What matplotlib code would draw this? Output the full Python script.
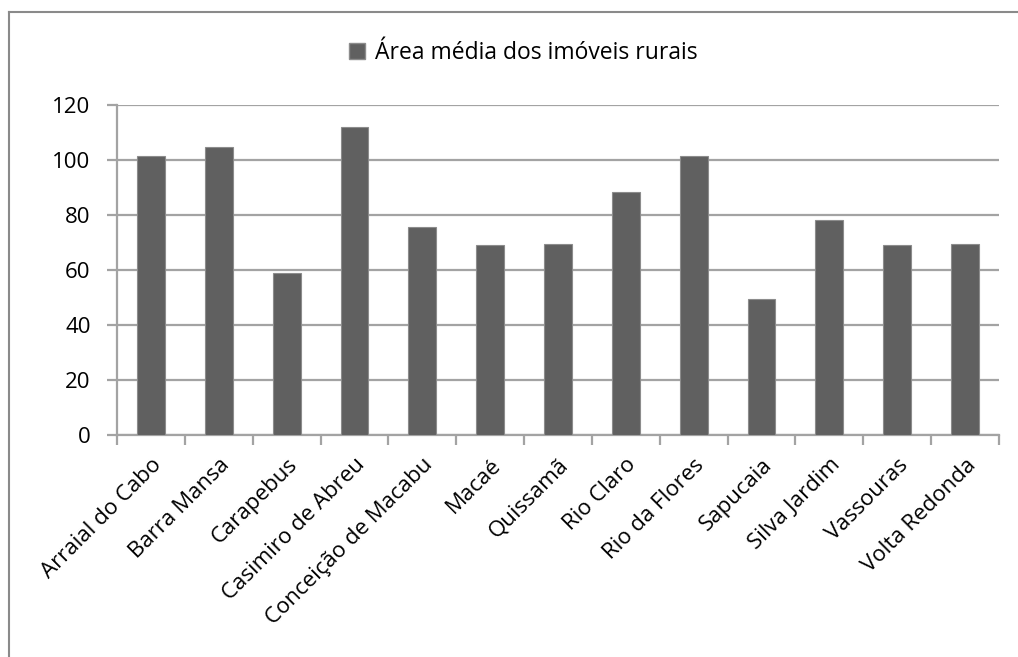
import numpy as np
import matplotlib.pyplot as plt
from matplotlib.lines import Line2D
from matplotlib.patches import Patch

plt.rcParams['font.family'] = ['Open Sans', 'DejaVu Sans']

# data
municipios = [
    "Arraial do Cabo", "Barra Mansa", "Carapebus", "Casimiro de Abreu",
    "Conceição de Macabu", "Macaé", "Quissamã", "Rio Claro",
    "Rio da Flores", "Sapucaia", "Silva Jardim", "Vassouras", "Volta Redonda",
]
area_media = [101.6, 104.8, 58.8, 111.9, 75.5, 69.2, 69.5, 88.2,
              101.3, 49.5, 78.1, 69.0, 69.5]
serie_nome = "Área média dos imóveis rurais"
y_ticks = [0, 20, 40, 60, 80, 100, 120]

bar_color = '#606060'
grid_color = '#a3a3a3'

W, H = 1018, 657
fig = plt.figure(figsize=(W / 100, H / 100), dpi=100)
ax = fig.add_axes([117 / W, 1 - 435 / H, (999 - 117) / W, (435 - 105) / H])

x = np.arange(len(municipios))
ax.bar(x, area_media, width=0.41, color=bar_color, edgecolor='#8c8c8c',
       linewidth=0.8, zorder=3)

ax.set_xlim(-0.5, len(municipios) - 0.5)
ax.set_ylim(0, 120)
ax.set_yticks(y_ticks)
ax.yaxis.grid(True, color=grid_color, linewidth=1.6, zorder=0)
ax.set_axisbelow(True)

for side in ['top', 'right']:
    ax.spines[side].set_visible(False)
for side in ['left', 'bottom']:
    ax.spines[side].set_color(grid_color)
    ax.spines[side].set_linewidth(1.6)

ax.tick_params(axis='y', length=7, width=1.6, color=grid_color, labelsize=16,
               pad=12)
ax.set_xticks(x)
ax.set_xticklabels(municipios, rotation=45, ha='right', rotation_mode='anchor',
                   fontsize=16)
ax.tick_params(axis='x', length=0, pad=14)
ax.set_xticks(np.arange(len(municipios) + 1) - 0.5, minor=True)
ax.tick_params(axis='x', which='minor', length=7, width=1.6, color=grid_color)

handle = Patch(facecolor=bar_color, edgecolor='#8c8c8c')
fig.legend([handle], [serie_nome], loc='center',
           bbox_to_anchor=(523 / W, 1 - 53 / H), frameon=False, fontsize=16.5,
           handlelength=0.7, handleheight=0.7, handletextpad=0.45)

# outer chart border (clipped by the image edges)
fig.add_artist(Line2D([8.5 / W, 8.5 / W], [-0.1, 1 - 12 / H],
                      color='#8a8a8a', linewidth=1.5))
fig.add_artist(Line2D([8.5 / W, 1.1], [1 - 12 / H, 1 - 12 / H],
                      color='#8a8a8a', linewidth=1.5))

fig.savefig('out.png', dpi=100, facecolor='white')
